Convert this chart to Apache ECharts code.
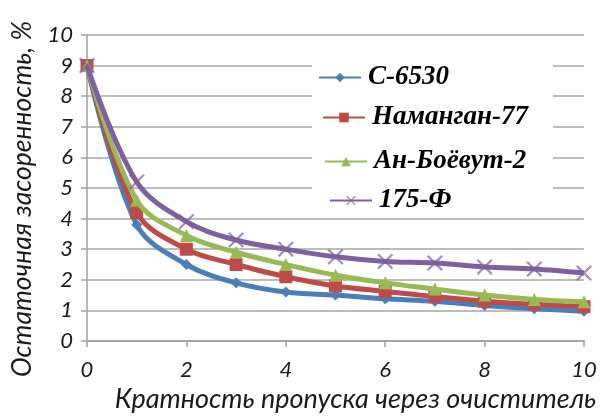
<!DOCTYPE html>
<html>
<head>
<meta charset="utf-8">
<script src="https://cdn.jsdelivr.net/npm/echarts@6/dist/echarts.min.js"></script>
<style>
html,body{margin:0;padding:0;background:#fff;}
#chart{width:600px;height:418px;}
</style>
</head>
<body>
<div id="chart"></div>
<script>
var xValues = [0, 1, 2, 3, 4, 5, 6, 7, 8, 9, 10];
var seriesNames = ['С-6530', 'Наманган-77', 'Ан-Боёвут-2', '175-Ф'];
var c6530 = [9, 3.8, 2.5, 1.9, 1.6, 1.5, 1.38, 1.3, 1.16, 1.05, 0.97];
var namangan77 = [9, 4.2, 3.0, 2.5, 2.1, 1.8, 1.62, 1.45, 1.3, 1.2, 1.12];
var anBoevut2 = [9, 4.6, 3.45, 2.9, 2.5, 2.15, 1.9, 1.7, 1.5, 1.36, 1.28];
var f175 = [9, 5.2, 3.9, 3.3, 3.0, 2.75, 2.6, 2.55, 2.42, 2.35, 2.22];
var xTicks = [0, 2, 4, 6, 8, 10];
var yTicks = [0, 1, 2, 3, 4, 5, 6, 7, 8, 9, 10];
var xName = 'Кратность пропуска через очиститель';
var yName = 'Остаточная засоренность, %';

function pairs(vals) {
  return xValues.map(function (x, i) { return [x, vals[i]]; });
}

var colors = ['#4A7EBB', '#BE4B48', '#98B954', '#7D60A0'];
var symbols = ['diamond', 'rect', 'triangle',
  'path://M0,1L1,0L5,4L9,0L10,1L6,5L10,9L9,10L5,6L1,10L0,9L4,5Z'];
var sizes = [11, 13, 13, 16];
var allData = [c6530, namangan77, anBoevut2, f175];

var series = seriesNames.map(function (name, i) {
  return {
    name: name,
    type: 'line',
    smooth: 0.35,
    data: pairs(allData[i]),
    symbol: symbols[i],
    symbolSize: sizes[i],
    showAllSymbol: true,
    lineStyle: { color: colors[i], width: 5 },
    itemStyle: { color: colors[i], opacity: i === 3 ? 0.7 : 1 },
    z: 2 + i
  };
});

var legendPos = [[318, 64], [322, 104], [324, 148], [329, 187]];
var legends = seriesNames.map(function (name, i) {
  return {
    data: [name],
    left: legendPos[i][0],
    top: legendPos[i][1],
    itemWidth: 42,
    itemHeight: 12,
    itemGap: 0,
    padding: 0,
    textStyle: {
      fontFamily: 'Liberation Serif',
      fontStyle: 'italic',
      fontWeight: 'bold',
      fontSize: 27,
      color: '#000',
      padding: [0, 0, 0, 2]
    },
    z: 20
  };
});

var chart = echarts.init(document.getElementById('chart'), null, { renderer: 'canvas' });
chart.setOption({
  animation: false,
  backgroundColor: '#fff',
  grid: { left: 87, right: 16, top: 35, bottom: 72, containLabel: false },
  legend: legends,
  graphic: [{
    type: 'rect',
    shape: { x: 312, y: 57, width: 241, height: 158 },
    style: { fill: '#fff' },
    z: 10
  }],
  xAxis: {
    type: 'value',
    min: xTicks[0],
    max: xTicks[xTicks.length - 1],
    interval: 2,
    name: xName,
    nameLocation: 'middle',
    nameGap: 45,
    nameTextStyle: {
      fontFamily: 'Lato',
      fontStyle: 'italic',
      fontSize: 27,
      color: '#1a1a1a',
      padding: [0, 0, 0, 40]
    },
    axisLine: { show: true, lineStyle: { color: '#a0a0a0', width: 1.5 } },
    axisTick: { show: true, length: 6, lineStyle: { color: '#a0a0a0', width: 1.5 } },
    axisLabel: {
      margin: 18,
      fontFamily: 'Lato',
      fontStyle: 'italic',
      fontSize: 22,
      color: '#1a1a1a'
    },
    splitLine: { show: false }
  },
  yAxis: {
    type: 'value',
    min: yTicks[0],
    max: yTicks[yTicks.length - 1],
    interval: 1,
    name: yName,
    nameLocation: 'middle',
    nameGap: 51,
    nameRotate: 90,
    nameTextStyle: {
      fontFamily: 'Lato',
      fontStyle: 'italic',
      fontSize: 26.5,
      color: '#1a1a1a',
      padding: [0, 22, 0, 0]
    },
    axisLine: { show: true, lineStyle: { color: '#a0a0a0', width: 1.5 } },
    axisTick: { show: true, length: 6, lineStyle: { color: '#a0a0a0', width: 1.5 } },
    axisLabel: {
      margin: 14,
      fontFamily: 'Lato',
      fontStyle: 'italic',
      fontSize: 22,
      color: '#1a1a1a'
    },
    splitLine: { show: true, lineStyle: { color: '#a6a6a6', width: 1.5 } }
  },
  series: series
});
</script>
</body>
</html>
